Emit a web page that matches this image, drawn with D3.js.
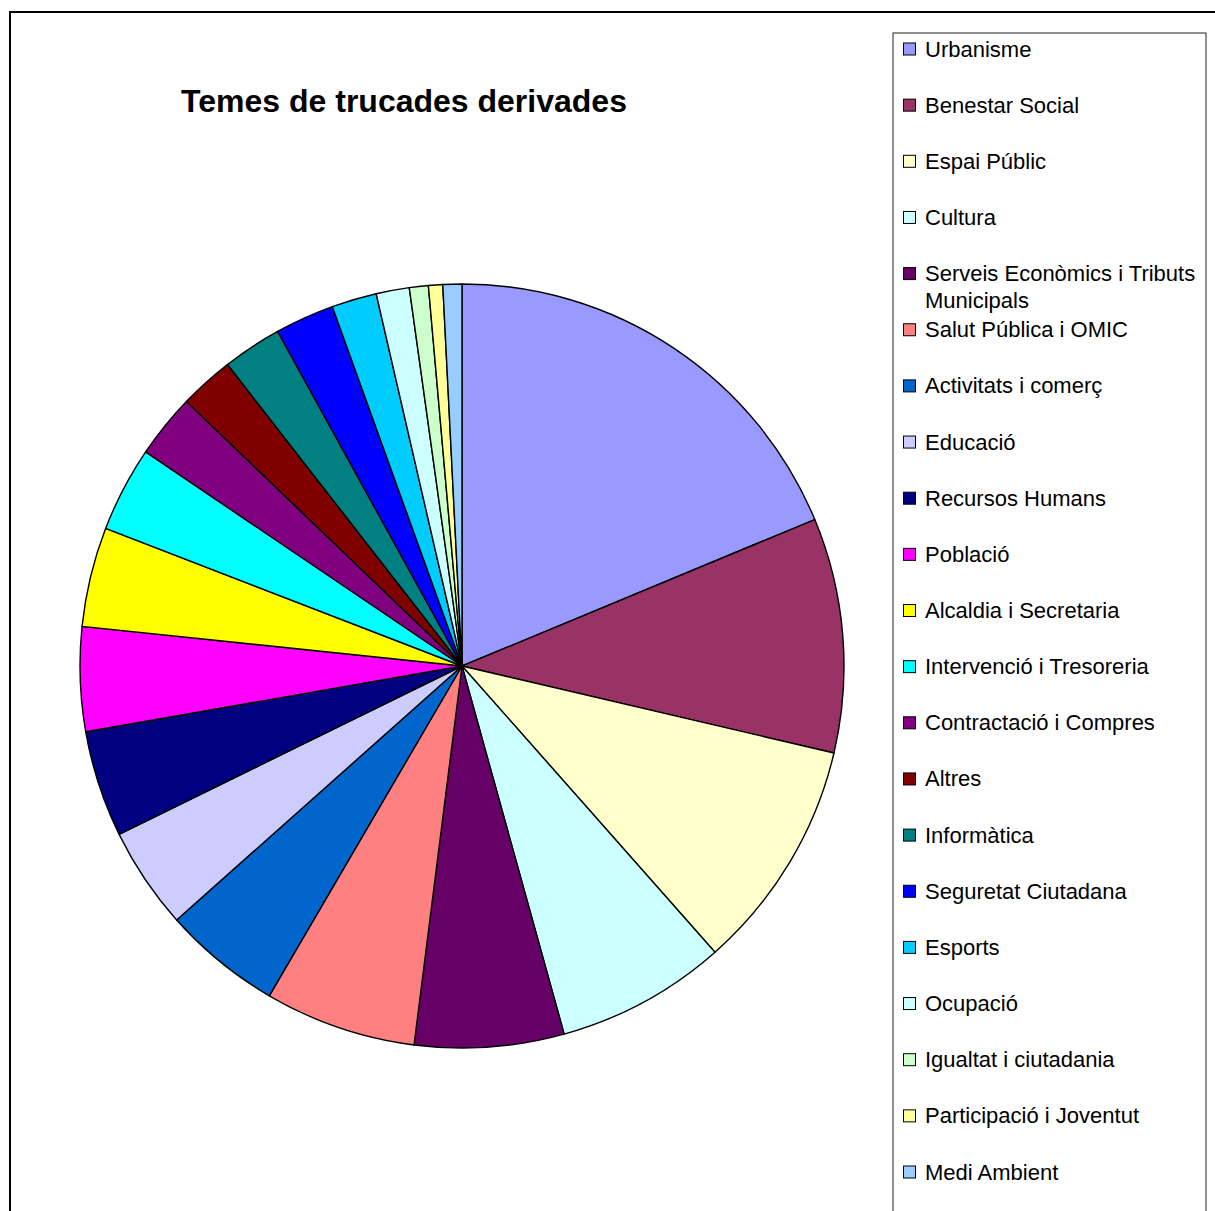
<!DOCTYPE html>
<html>
<head>
<meta charset="utf-8">
<script src="https://cdn.jsdelivr.net/npm/d3@7"></script>
<style>
  body { margin: 0; background: #fff; }
  svg { display: block; font-family: "Liberation Sans", Arial, sans-serif; }
</style>
</head>
<body>
<div id="chart"></div>
<script>
// categories in legend / slice order
const categories = [
  "Urbanisme", "Benestar Social", "Espai Públic", "Cultura",
  "Serveis Econòmics i Tributs Municipals", "Salut Pública i OMIC",
  "Activitats i comerç", "Educació", "Recursos Humans", "Població",
  "Alcaldia i Secretaria", "Intervenció i Tresoreria", "Contractació i Compres",
  "Altres", "Informàtica", "Seguretat Ciutadana", "Esports", "Ocupació",
  "Igualtat i ciutadania", "Participació i Joventut", "Medi Ambient"
];
// share of calls (%)
const values = [18.7, 9.9, 9.8, 7.2, 6.3, 6.4, 5.0, 4.3, 4.5, 4.4, 4.2, 3.6, 2.7, 2.3, 2.5, 2.5, 1.9, 1.4, 0.8, 0.6, 0.8];
const colors = [
  "#9999FF", "#993366", "#FFFFCC", "#CCFFFF", "#660066", "#FF8080",
  "#0066CC", "#CCCCFF", "#000080", "#FF00FF", "#FFFF00", "#00FFFF",
  "#800080", "#800000", "#008080", "#0000FF", "#00CCFF", "#CCFFFF",
  "#CCFFCC", "#FFFF99", "#99CCFF"
];
// legend labels that wrap onto two lines
const legendLines = {"Serveis Econòmics i Tributs Municipals": ["Serveis Econòmics i Tributs", "Municipals"]};

const width = 1215, height = 1211;
const svg = d3.select("#chart").append("svg")
  .attr("width", width).attr("height", height);

// outer chart frame (runs past the right/bottom edges)
svg.append("rect")
  .attr("x", 10).attr("y", 12)
  .attr("width", 1230).attr("height", 1230)
  .attr("fill", "#fff").attr("stroke", "#000").attr("stroke-width", 2);

svg.append("text")
  .attr("x", 404).attr("y", 112)
  .attr("text-anchor", "middle")
  .attr("font-size", 32).attr("font-weight", "bold")
  .text("Temes de trucades derivades");

const cx = 462, cy = 666, r = 382;
const color = d3.scaleOrdinal().domain(categories).range(colors);

const pie = d3.pie().sort(null).value(d => d.value);
const arc = d3.arc().innerRadius(0).outerRadius(r);
const data = categories.map((c, i) => ({name: c, value: values[i]}));

svg.append("g")
  .attr("transform", `translate(${cx},${cy})`)
  .selectAll("path")
  .data(pie(data))
  .join("path")
  .attr("d", arc)
  .attr("fill", d => color(d.data.name))
  .attr("stroke", "#000")
  .attr("stroke-width", 1.4)
  .attr("stroke-linejoin", "round");

// legend
svg.append("rect")
  .attr("x", 893).attr("y", 33)
  .attr("width", 313).attr("height", 1250)
  .attr("fill", "#fff").attr("stroke", "#222").attr("stroke-width", 1);

const rowY = d3.scaleLinear().domain([0, categories.length - 1]).range([49, 1172]);

const item = svg.append("g").selectAll("g")
  .data(categories)
  .join("g")
  .attr("transform", (d, i) => `translate(903,${rowY(i)})`);

item.append("rect")
  .attr("x", 0.5).attr("y", -6)
  .attr("width", 12).attr("height", 12)
  .attr("fill", d => color(d))
  .attr("stroke", "#000").attr("stroke-width", 1);

item.append("text")
  .attr("x", 22).attr("y", 7.5)
  .attr("font-size", 22)
  .selectAll("tspan")
  .data(d => legendLines[d] || [d])
  .join("tspan")
  .attr("x", 22)
  .attr("dy", (d, i) => i === 0 ? 0 : 27)
  .text(d => d);
</script>
</body>
</html>
